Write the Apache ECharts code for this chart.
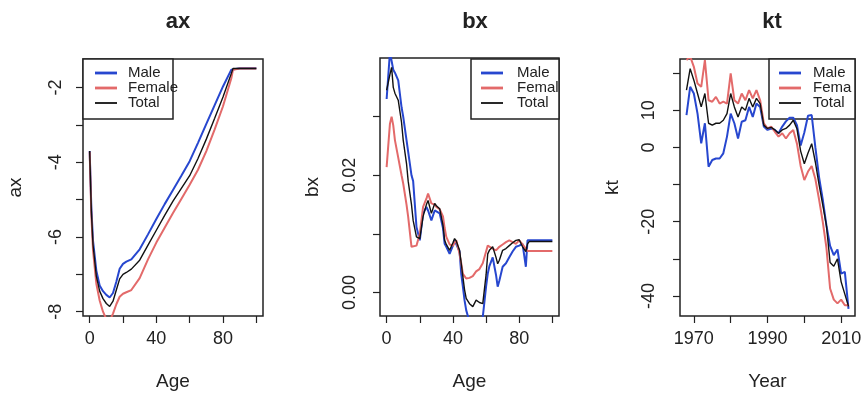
<!DOCTYPE html>
<html>
<head>
<meta charset="UTF-8">
<title>ax bx kt</title>
<style>
  html, body { margin: 0; padding: 0; background: #fff; }
  #chart { width: 868px; height: 396px; }
</style>
</head>
<body>
<div id="chart"></div>
<script src="https://cdn.jsdelivr.net/npm/echarts@6/dist/echarts.min.js"></script>
<script>
// ---- ax : age pattern ----
var agesA = [0, 1, 2, 4, 6, 8, 10, 12, 14, 16, 18, 20, 22, 25, 30, 35, 40, 45, 50, 55, 60, 65, 70, 75, 80, 85, 86, 90, 95, 100];
var axMale = [-3.7, -5.2, -6.1, -6.9, -7.3, -7.45, -7.55, -7.62, -7.5, -7.2, -6.85, -6.72, -6.66, -6.6, -6.33, -5.93, -5.52, -5.12, -4.74, -4.36, -3.97, -3.48, -2.97, -2.47, -1.97, -1.52, -1.48, -1.48, -1.48, -1.48];
var axFemale = [-3.72, -5.4, -6.35, -7.25, -7.7, -8.0, -8.2, -8.25, -8.05, -7.8, -7.6, -7.52, -7.48, -7.42, -7.1, -6.6, -6.15, -5.75, -5.36, -4.98, -4.6, -4.2, -3.7, -3.12, -2.5, -1.75, -1.52, -1.49, -1.49, -1.49];
var axTotal = [-3.7, -5.3, -6.2, -7.05, -7.45, -7.65, -7.78, -7.86, -7.72, -7.42, -7.12, -7.0, -6.95, -6.86, -6.62, -6.22, -5.82, -5.42, -5.04, -4.7, -4.36, -3.9, -3.38, -2.82, -2.25, -1.62, -1.49, -1.49, -1.49, -1.49];

// ---- bx : age sensitivity ----
var agesB = [0, 2, 3, 4, 5, 7, 9, 10, 12, 13, 15, 16, 18, 20, 22, 24, 25, 27, 29, 30, 32, 34, 35, 36, 38, 40, 41, 42, 44, 45, 46, 47, 48, 50, 52, 54, 56, 58, 60, 61, 62, 64, 66, 67, 68, 70, 72, 74, 76, 78, 80, 82, 84, 85, 86, 90, 95, 100];
var bxMale = [0.0330, 0.0410, 0.0395, 0.0380, 0.0375, 0.0362, 0.0316, 0.0300, 0.0260, 0.0240, 0.0200, 0.0190, 0.0112, 0.0089, 0.0135, 0.0146, 0.0140, 0.0123, 0.0140, 0.0138, 0.0135, 0.0110, 0.0083, 0.0078, 0.0066, 0.0080, 0.0089, 0.0086, 0.0070, 0.0032, 0.0010, -0.0013, -0.0030, -0.0050, -0.0055, -0.0050, -0.0050, -0.0042, 0.0010, 0.0032, 0.0045, 0.0060, 0.0030, 0.0010, 0.0020, 0.0044, 0.0050, 0.0060, 0.0070, 0.0078, 0.0080, 0.0083, 0.0044, 0.0089, 0.0089, 0.0089, 0.0089, 0.0089];
var bxFemale = [0.0214, 0.0288, 0.0300, 0.0285, 0.0260, 0.0230, 0.0200, 0.0186, 0.0150, 0.0129, 0.0078, 0.0075, 0.0080, 0.0100, 0.0146, 0.0160, 0.0169, 0.0152, 0.0150, 0.0146, 0.0142, 0.0130, 0.0110, 0.0095, 0.0082, 0.0080, 0.0085, 0.0089, 0.0066, 0.0050, 0.0032, 0.0028, 0.0024, 0.0025, 0.0028, 0.0036, 0.0040, 0.0050, 0.0070, 0.0080, 0.0083, 0.0075, 0.0072, 0.0075, 0.0078, 0.0082, 0.0086, 0.0089, 0.0086, 0.0083, 0.0089, 0.0082, 0.0075, 0.0071, 0.0071, 0.0071, 0.0071, 0.0071];
var bxTotal = [0.0345, 0.0372, 0.0384, 0.0350, 0.0340, 0.0328, 0.0290, 0.0260, 0.0220, 0.0190, 0.0150, 0.0123, 0.0095, 0.0092, 0.0130, 0.0150, 0.0157, 0.0135, 0.0152, 0.0148, 0.0143, 0.0115, 0.0089, 0.0082, 0.0072, 0.0085, 0.0092, 0.0088, 0.0072, 0.0050, 0.0027, 0.0005, -0.0010, -0.0019, -0.0024, -0.0013, -0.0017, -0.0019, 0.0030, 0.0066, 0.0072, 0.0078, 0.0060, 0.0049, 0.0055, 0.0072, 0.0075, 0.0080, 0.0085, 0.0089, 0.0090, 0.0078, 0.0070, 0.0083, 0.0087, 0.0087, 0.0087, 0.0087];

// ---- kt : time index ----
var years = [];
for (var yr = 1968; yr <= 2012; yr++) years.push(yr);
var ktMale = [8.7, 16.3, 14.5, 9.1, 1.1, 6.5, -5.2, -3.4, -3.0, -3.0,
  -1.6, 2.9, 9.1, 6.5, 2.4, 6.9, 7.3, 10.9, 8.2, 11.8,
  10.9, 5.6, 4.7, 5.1, 4.7, 3.8, 5.6, 7.0, 8.0, 8.0,
  6.0, 0.5, 4.0, 8.5, 8.7, 0.0, -8.0, -14.0, -21.0, -26.5,
  -29.0, -27.5, -34.0, -33.5, -43.5];
var ktFemale = [23.5, 24.5, 21.7, 17.2, 16.3, 23.5, 12.7, 12.3, 13.6, 11.8,
  12.3, 11.8, 19.9, 12.7, 11.8, 14.5, 12.7, 15.4, 13.2, 15.4,
  12.7, 6.5, 5.1, 5.6, 4.2, 2.9, 3.8, 2.4, 3.8, 4.7,
  1.0, -5.0, -8.8, -6.5, -5.0, -8.5, -14.0, -20.0, -27.0, -38.0,
  -41.0, -42.0, -41.0, -42.5, -42.5];
var ktTotal = [15.4, 21.2, 18.1, 14.5, 10.9, 14.5, 6.5, 6.0, 6.5, 6.5,
  7.3, 9.1, 14.5, 10.9, 8.2, 10.9, 10.0, 13.2, 10.9, 13.2,
  11.8, 6.0, 5.1, 5.4, 4.7, 3.8, 4.7, 5.1, 6.0, 7.3,
  5.0, -1.0, -4.4, -1.5, 1.0, -4.0, -10.0, -15.5, -21.0, -31.0,
  -32.0, -30.0, -36.2, -39.5, -42.8];

// tick marks / labels (R style: every tick, label only where it fits)
var ageTicks = [0, 20, 40, 60, 80, 100];
var ageLabels = [0, 40, 80];
var axTicks = [-8, -7, -6, -5, -4, -3, -2];
var axLabels = [-8, -6, -4, -2];
var bxTicks = [0, 0.01, 0.02, 0.03];
var bxLabels = [0, 0.02];
var yearTicks = [1970, 1980, 1990, 2000, 2010];
var yearLabels = [1970, 1990, 2010];
var ktTicks = [-40, -30, -20, -10, 0, 10, 20];
var ktLabels = [-40, -20, 0, 10];

var FONT = '"Liberation Sans", Arial, sans-serif';
var INK = '#222';
var BLUE = '#2747cf', RED = '#e36a6a', BLACK = '#111';

function pairs(xs, ys) {
    return xs.map(function (x, i) { return [x, ys[i]]; });
}

function plain(v) { return String(v); }

function xAxisCfg(g, min, max, ticks, labels, name) {
    return {
        type: 'value', gridIndex: g, min: min, max: max,
        name: name, nameLocation: 'middle', nameGap: 56,
        nameTextStyle: {fontFamily: FONT, fontSize: 19, color: INK},
        axisLine: {show: false, onZero: false},
        axisTick: {show: true, length: 7, customValues: ticks, lineStyle: {color: INK, width: 1.2}},
        axisLabel: {customValues: labels, margin: 14, fontFamily: FONT, fontSize: 18, color: INK, formatter: plain},
        splitLine: {show: false}
    };
}

function yAxisCfg(g, min, max, ticks, labels, name, margin, fmt) {
    return {
        type: 'value', gridIndex: g, min: min, max: max,
        name: name, nameLocation: 'middle', nameGap: 58, nameRotate: 90,
        nameTextStyle: {fontFamily: FONT, fontSize: 19, color: INK},
        axisLine: {show: false, onZero: false},
        axisTick: {show: true, length: 7, customValues: ticks, lineStyle: {color: INK, width: 1.2}},
        axisLabel: {customValues: labels, rotate: 90, margin: margin, fontFamily: FONT, fontSize: 18, color: INK,
            formatter: fmt || plain},
        splitLine: {show: false}
    };
}

function lineSeries(g, name, data, color, w) {
    return {
        type: 'line', name: name, xAxisIndex: g, yAxisIndex: g,
        data: data, showSymbol: false, symbol: 'none', clip: true,
        lineStyle: {color: color, width: w}, itemStyle: {color: color},
        silent: true
    };
}

// legend box drawn like R's legend(): white fill, text clipped at plot edge
function legendBox(x, y, w, lineX, textX, textW) {
    var rows = [['Male', BLUE, 2.8], ['Female', RED, 2.8], ['Total', BLACK, 1.8]];
    var kids = [{type: 'rect', shape: {x: 0, y: 0, width: w, height: 60},
        style: {fill: '#fff', stroke: INK, lineWidth: 1.5}}];
    rows.forEach(function (r, i) {
        var ly = 14 + i * 15;
        kids.push({type: 'line', shape: {x1: lineX, y1: ly, x2: lineX + 22, y2: ly},
            style: {stroke: r[1], lineWidth: r[2]}});
        var st = {text: r[0], x: textX, y: ly, fill: INK, fontFamily: FONT, fontSize: 15,
            verticalAlign: 'middle', align: 'left'};
        if (textW) { st.width = textW; st.overflow = 'truncate'; st.ellipsis = ''; }
        kids.push({type: 'text', style: st});
    });
    return {type: 'group', x: x, y: y, z: 100, children: kids};
}

var chart = echarts.init(document.getElementById('chart'), null, {renderer: 'canvas'});
var gridBase = {show: true, borderColor: INK, borderWidth: 1.5, backgroundColor: 'transparent', containLabel: false};

chart.setOption({
    animation: false,
    backgroundColor: '#fff',
    title: [
        {text: 'ax', left: 173, top: 6, textAlign: 'center', textStyle: {fontFamily: FONT, fontSize: 22, fontWeight: 'bold', color: INK}},
        {text: 'bx', left: 470, top: 6, textAlign: 'center', textStyle: {fontFamily: FONT, fontSize: 22, fontWeight: 'bold', color: INK}},
        {text: 'kt', left: 767, top: 6, textAlign: 'center', textStyle: {fontFamily: FONT, fontSize: 22, fontWeight: 'bold', color: INK}}
    ],
    grid: [
        Object.assign({left: 83, top: 59, width: 180, height: 258}, gridBase),
        Object.assign({left: 380, top: 58, width: 179, height: 258}, gridBase),
        Object.assign({left: 680, top: 59, width: 175, height: 257}, gridBase)
    ],
    xAxis: [
        xAxisCfg(0, -4, 104, ageTicks, ageLabels, 'Age'),
        xAxisCfg(1, -4, 104, ageTicks, ageLabels, 'Age'),
        xAxisCfg(2, 1966.24, 2013.76, yearTicks, yearLabels, 'Year')
    ],
    yAxis: [
        yAxisCfg(0, -8.115, -1.235, axTicks, axLabels, 'ax', 18),
        yAxisCfg(1, -0.004, 0.040, bxTicks, bxLabels, 'bx', 21, function (v) { return v.toFixed(2); }),
        yAxisCfg(2, -45.4, 23.8, ktTicks, ktLabels, 'kt', 22)
    ],
    series: [
        lineSeries(0, 'Male', pairs(agesA, axMale), BLUE, 2),
        lineSeries(0, 'Female', pairs(agesA, axFemale), RED, 2),
        lineSeries(0, 'Total', pairs(agesA, axTotal), BLACK, 1.4),
        lineSeries(1, 'Male', pairs(agesB, bxMale), BLUE, 2),
        lineSeries(1, 'Female', pairs(agesB, bxFemale), RED, 2),
        lineSeries(1, 'Total', pairs(agesB, bxTotal), BLACK, 1.4),
        lineSeries(2, 'Male', pairs(years, ktMale), BLUE, 2),
        lineSeries(2, 'Female', pairs(years, ktFemale), RED, 2),
        lineSeries(2, 'Total', pairs(years, ktTotal), BLACK, 1.4)
    ],
    graphic: [
        legendBox(83, 59, 90, 12, 45, 0),
        legendBox(471, 59, 88, 10, 46, 43),
        legendBox(769, 59, 86, 10, 44, 41)
    ]
});
</script>
</body>
</html>
